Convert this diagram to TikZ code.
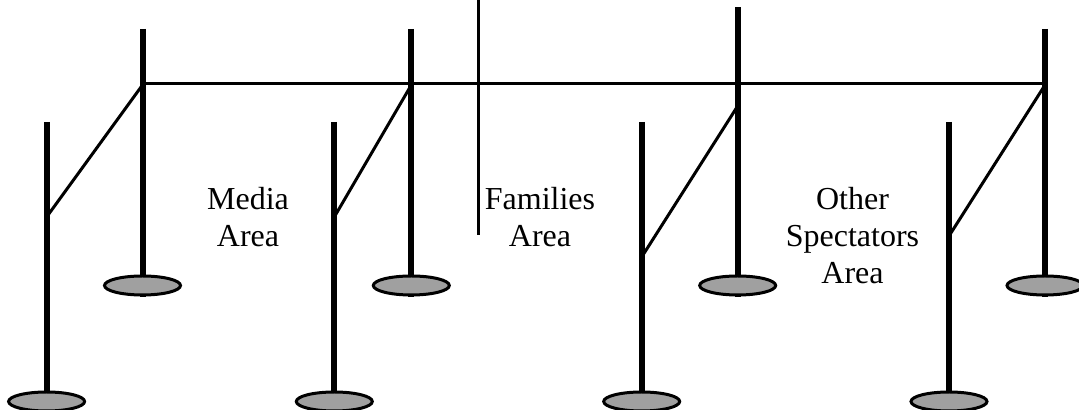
\documentclass[tikz,border=0pt]{standalone}
\usepackage{fontspec}
\setmainfont{Liberation Serif}
\usepackage{xcolor}
\definecolor{plgris}{HTML}{A0A0A0}
\tikzset{
  poteau/.style={black,line width=0.6mm},
  fil/.style={black,line width=0.3mm},
  socle/.style={fill=plgris,draw=black,line width=0.3mm},
  zone/.style={align=center,font=\fontsize{9.1}{10.5}\selectfont,inner sep=0pt}
}
\begin{document}
\begin{tikzpicture}[x=0.01cm,y=-0.01cm]
  \useasboundingbox (0,0) rectangle (1079,410);
  % poteaux arriere
  \foreach \x/\haut/\nom in {142.5/29/a, 411.3/29/b, 737.7/7.3/c, 1045/29/d} {
    \draw[poteau] (\x,\haut) -- (\x,297);
    \filldraw[socle] (\x,285.5) ellipse (38 and 9.5);
    \coordinate (arr\nom) at (\x,84);
  }
  % poteaux avant
  \foreach \x/\nom in {46.6/a, 334.3/b, 641.7/c, 949/d} {
    \draw[poteau] (\x,122) -- (\x,412);
    \filldraw[socle] (\x,401.5) ellipse (38 and 9.5);
  }
  % fil du haut
  \draw[fil] (arra) -- (arrd);
  % separation
  \coordinate (sephaut) at (478.3,0);
  \coordinate (sepbas) at (478.3,235);
  \draw[fil] (sephaut) -- (sepbas);
  % fils obliques
  \foreach \x/\y/\xx/\yy in {46.6/217/142.5/85, 334.3/217/411.3/85, 641.7/257/737.7/106, 949/236/1045/85} {
    \draw[fil] (\x,\y) -- (\xx,\yy);
  }
  % zones
  \node[zone] (media) at (248,217.5) {Media\\Area};
  \node[zone] (families) at (540,217.5) {Families\\Area};
  \node[zone] (spectators) at (852.5,235.5) {Other\\Spectators\\Area};
\end{tikzpicture}
\end{document}
